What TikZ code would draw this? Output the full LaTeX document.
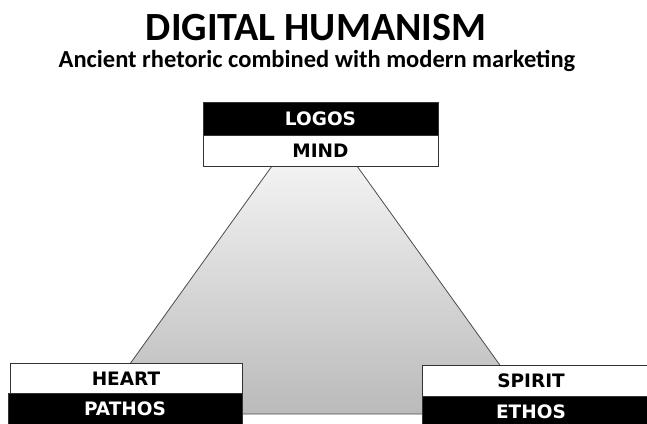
\documentclass[tikz,border=0pt]{standalone}
\usepackage{fontspec}
\setmainfont{Carlito}
\newfontfamily\boxfont{DejaVu Sans}
\begin{document}
\begin{tikzpicture}[x=1pt,y=-1pt,
  lbl/.style={font=\boxfont\bfseries\fontsize{18.5}{20}\selectfont},
  whitebox/.style={draw=black!80, line width=0.8pt, fill=white},
  blackbox/.style={draw=black!80, line width=0.8pt, fill=black}]
\useasboundingbox (0,0) rectangle (647,423);
% trapezoid
\coordinate (tl) at (272,166);
\coordinate (tr) at (357,166);
\coordinate (bl) at (94,414);
\coordinate (br) at (535,414);
\shade[top color=black!5, bottom color=black!27, draw=black!70, line width=0.8pt]
  (tl) -- (tr) -- (br) -- (bl) -- cycle;
% title
\node[font=\bfseries\fontsize{40}{42}\selectfont, anchor=base] (title) at (316,40) {DIGITAL HUMANISM};
\node[font=\bfseries\fontsize{24.5}{26}\selectfont, anchor=base] (sub) at (317,67) {Ancient rhetoric combined with modern marketing};
% top boxes
\path[blackbox] (203,102) rectangle (438,135);
\node[lbl, text=white] (logos) at (320.5,119) {LOGOS};
\path[whitebox] (203,135) rectangle (438,166);
\node[lbl] (mind) at (320.5,151) {MIND};
% left boxes
\path[whitebox] (10,363) rectangle (242,393);
\node[lbl] (heart) at (126,378.5) {HEART};
\path[blackbox] (8,393) rectangle (242,430);
\node[lbl, text=white] (pathos) at (125,409) {PATHOS};
% right boxes
\path[whitebox] (422,365) rectangle (650,396);
\node[lbl] (spirit) at (531,381) {SPIRIT};
\path[blackbox] (422,396) rectangle (650,430);
\node[lbl, text=white] (ethos) at (531,412) {ETHOS};
\end{tikzpicture}
\end{document}
